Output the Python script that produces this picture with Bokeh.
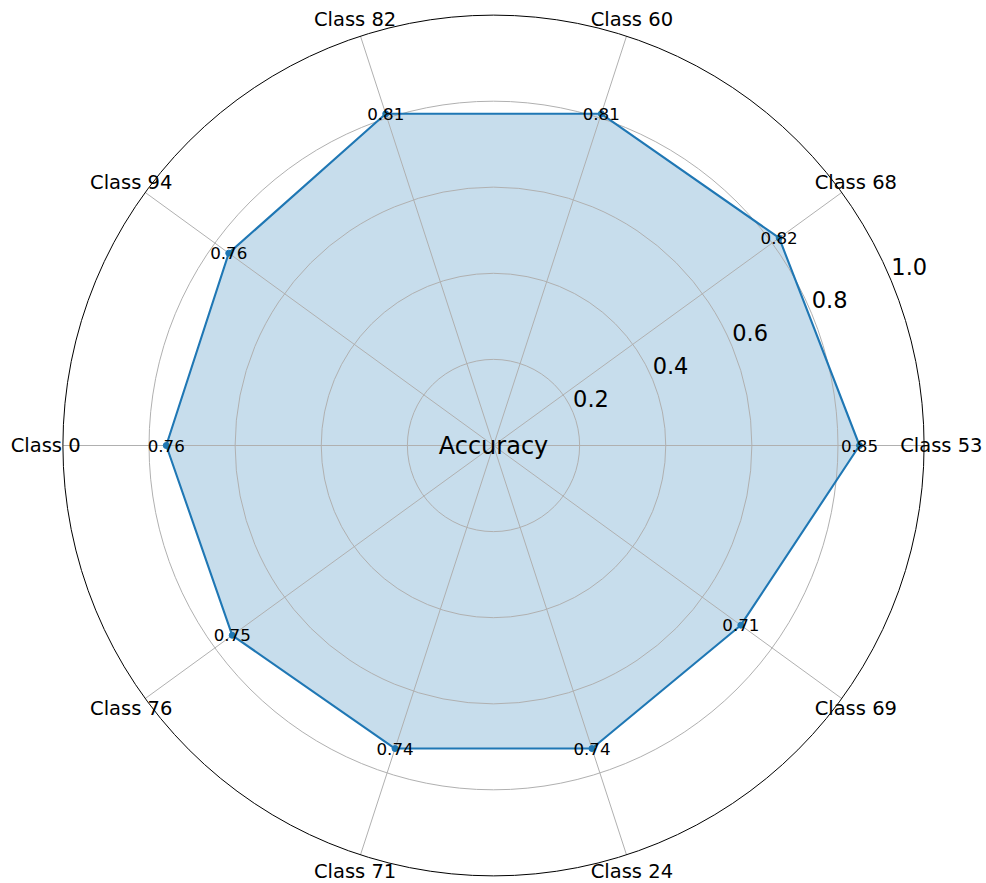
import numpy as np
from bokeh.plotting import figure
from bokeh.models import Range1d
from bokeh.core.properties import value
from bokeh.embed import file_html
from bokeh.resources import INLINE

categories = ["Class 53", "Class 68", "Class 60", "Class 82", "Class 94",
              "Class 0", "Class 76", "Class 71", "Class 24", "Class 69"]
accuracy = [0.85, 0.82, 0.81, 0.81, 0.76, 0.76, 0.75, 0.74, 0.74, 0.71]
r_ticks = [0.2, 0.4, 0.6, 0.8, 1.0]
r_tick_labels = ["0.2", "0.4", "0.6", "0.8", "1.0"]
center_label = "Accuracy"

FONT = value("DejaVu Sans")
BLUE = "#1f77b4"

W, H = 986, 883
scale = 430.6
cx_px, cy_px = 493.0, 445.0
x_range = Range1d(-cx_px / scale, (W - cx_px) / scale)
y_range = Range1d(-(H - cy_px) / scale, cy_px / scale)

p = figure(width=W, height=H, x_range=x_range, y_range=y_range,
           output_backend="svg", toolbar_location=None, min_border=0)
p.axis.visible = False
p.grid.visible = False
p.outline_line_color = None
p.background_fill_color = "white"
p.border_fill_color = "white"

n = len(categories)
theta = np.arange(n) * 2 * np.pi / n
acc = np.array(accuracy)
px = acc * np.cos(theta)
py = acc * np.sin(theta)

# filled polygon
p.patch(list(px), list(py), fill_color=BLUE, fill_alpha=0.25, line_color=None)

# grid circles (inner) and spokes
inner = [t for t in r_ticks if t < 1.0]
p.circle(x=[0] * len(inner), y=[0] * len(inner), radius=inner,
         fill_color=None, line_color="#b0b0b0", line_width=1.0)
p.segment(x0=[0] * n, y0=[0] * n, x1=list(np.cos(theta)), y1=list(np.sin(theta)),
          line_color="#b0b0b0", line_width=1.0)

# data line
p.line(list(px) + [px[0]], list(py) + [py[0]], line_color=BLUE, line_width=2.1)
p.scatter(list(px), list(py), size=6, color=BLUE)

# outer spine
p.circle(x=[0], y=[0], radius=[max(r_ticks)], fill_color=None,
         line_color="black", line_width=1.0)

# value labels
p.text(x=list(px), y=list(py), text=["%.2f" % a for a in accuracy],
       text_font=FONT, text_font_size="16.7px", text_color="black",
       text_align="center", text_baseline="middle")

# radial tick labels at 22.5 degrees
ang = np.deg2rad(22.5)
rt = np.array(r_ticks)
p.text(x=list(rt * np.cos(ang)), y=list(rt * np.sin(ang)), text=r_tick_labels,
       text_font=FONT, text_font_size="22.5px", text_color="black",
       text_align="left", text_baseline="bottom", y_offset=-6)

# category labels
lab_r = 1.04
p.text(x=list(lab_r * np.cos(theta)), y=list(lab_r * np.sin(theta)), text=categories,
       text_font=FONT, text_font_size="19.5px", text_color="black",
       text_align="center", text_baseline="middle")

# center label
p.text(x=[0], y=[0], text=[center_label], text_font=FONT, text_font_size="24px",
       text_color="black", text_align="center", text_baseline="middle")

open("out.html", "w").write(file_html(p, INLINE))
